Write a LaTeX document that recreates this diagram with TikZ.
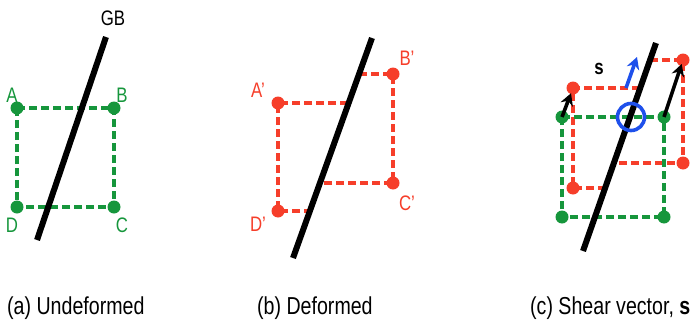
\documentclass[tikz,border=0pt]{standalone}
\usepackage{fontspec}
\setmainfont[FakeStretch=0.8]{Liberation Sans}
\usetikzlibrary{arrows.meta,calc}
\definecolor{grn}{RGB}{22,150,60}
\definecolor{rd}{RGB}{246,62,42}
\definecolor{blu}{RGB}{30,80,235}
\tikzset{
  gb/.style={line width=6pt,black},
  gdash/.style={grn,line width=3.2pt,dash pattern=on 8pt off 4pt},
  rdash/.style={rd,line width=3.2pt,dash pattern=on 8pt off 4pt},
  gdot/.style={circle,fill=grn,inner sep=0pt,minimum size=13pt},
  rdot/.style={circle,fill=rd,inner sep=0pt,minimum size=13pt},
  lbl/.style={font=\fontsize{21}{23}\selectfont,inner sep=0pt},
  captxt/.style={font=\fontsize{24.5}{27}\selectfont,inner sep=0pt,anchor=base west},
  vec/.style={line width=3.6pt,-{Stealth[length=12pt,width=13pt]}}
}
\begin{document}
\begin{tikzpicture}[x=1pt,y=-1pt]
\useasboundingbox (0,0) rectangle (693,324);
% ---------- (a) ----------
\coordinate (a1) at (106,37);
\coordinate (a2) at (37,240);
\coordinate (A) at (17,108);
\coordinate (B) at (114,108);
\coordinate (C) at (114,207);
\coordinate (D) at (17,207);
\draw[gdash] (A) -- (B) -- (C) -- (D) -- cycle;
\draw[gb] (a1) -- (a2);
\foreach \p in {A,B,C,D} \node[gdot] (n\p) at (\p) {};
\node[lbl,text=grn] (lA) at (12,95) {A};
\node[lbl,text=grn] (lB) at (122,95) {B};
\node[lbl,text=grn] (lC) at (122,225) {C};
\node[lbl,text=grn] (lD) at (12,225) {D};
\node[lbl] (lGB) at (113,18) {GB};
% ---------- (b) ----------
\coordinate (b1) at (372,38);
\coordinate (b2) at (293,258);
\coordinate (Ap) at (278,103);
\coordinate (Bp) at (393,74);
\coordinate (Cp) at (393,183);
\coordinate (Dp) at (278,211);
\coordinate (iA) at (348,103);
\coordinate (iB) at (359,74);
\coordinate (iC) at (320,183);
\coordinate (iD) at (310,211);
\draw[rdash] (iA) -- (Ap) -- (Dp) -- (iD);
\draw[rdash] (iB) -- (Bp) -- (Cp) -- (iC);
\draw[gb] (b1) -- (b2);
\foreach \p in {Ap,Bp,Cp,Dp} \node[rdot] (n\p) at (\p) {};
\node[lbl,text=rd] (lAp) at (258,90) {A’};
\node[lbl,text=rd] (lBp) at (407,58) {B’};
\node[lbl,text=rd] (lCp) at (407,203) {C’};
\node[lbl,text=rd] (lDp) at (258,224) {D’};
% ---------- (c) ----------
\coordinate (c1) at (656,43);
\coordinate (c2) at (583,251);
\coordinate (gA) at (562,117);
\coordinate (gB) at (664,117);
\coordinate (gC) at (664,217);
\coordinate (gD) at (562,217);
\coordinate (rA) at (573,88);
\coordinate (rB) at (683,60);
\coordinate (rC) at (683,163);
\coordinate (rD) at (573,188);
\coordinate (jA) at (640,88);
\coordinate (jB) at (650,60);
\coordinate (jC) at (614,163);
\coordinate (jD) at (605,188);
\draw[rdash] (jA) -- (rA) -- (rD) -- (jD);
\draw[rdash] (jB) -- (rB) -- (rC) -- (jC);
\draw[gdash] (gA) -- (gB) -- (gC) -- (gD) -- cycle;
\draw[gb] (c1) -- (c2);
\foreach \p in {gA,gB,gC,gD} \node[gdot] (n\p) at (\p) {};
\foreach \p in {rA,rB,rC,rD} \node[rdot] (n\p) at (\p) {};
\draw[vec] (gA) -- ($(gA)!0.82!(rA)$);
\draw[vec] (gB) -- ($(gB)!0.93!(rB)$);
\node[circle,draw=blu,line width=3.6pt,minimum size=27pt,inner sep=0pt] (circ) at (631,117) {};
\coordinate (s1) at (626,88);
\coordinate (s2) at (637,57);
\draw[vec,blu] (s1) -- (s2);
\node[lbl,font=\fontsize{21}{23}\selectfont\bfseries] (lS) at (599,69) {s};
% ---------- captions ----------
\node[captxt] (capa) at (7,314) {(a) Undeformed};
\node[captxt] (capb) at (257,314) {(b) Deformed};
\node[captxt] (capc) at (530,314) {(c) Shear vector, \textbf{s}};
\end{tikzpicture}
\end{document}
